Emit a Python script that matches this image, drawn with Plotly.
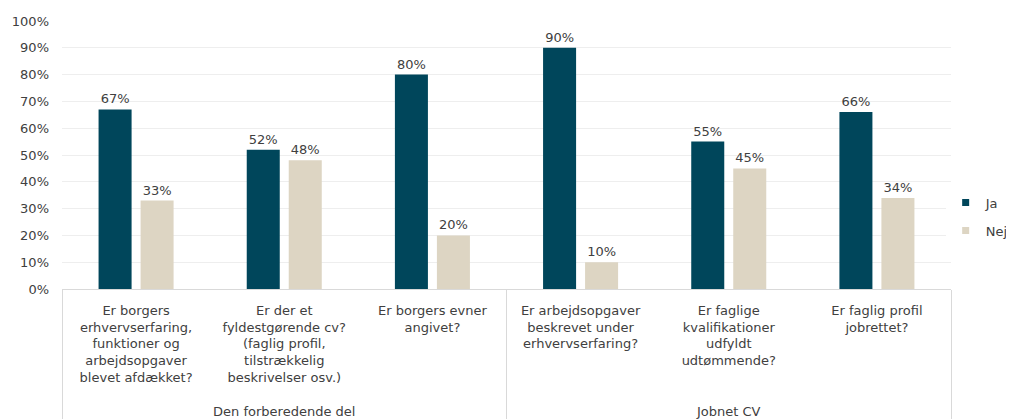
import plotly.graph_objects as go

groups = ["Den forberedende del"] * 3 + ["Jobnet CV"] * 3
categories = [
    "Er borgers<br>erhvervserfaring,<br>funktioner og<br>arbejdsopgaver<br>blevet afdækket?<br><span style='font-size:50px'>\u00a0</span>",
    "Er der et<br>fyldestgørende cv?<br>(faglig profil,<br>tilstrækkelig<br>beskrivelser osv.)<br><span style='font-size:50px'>\u00a0</span>",
    "Er borgers evner<br>angivet?",
    "Er arbejdsopgaver<br>beskrevet under<br>erhvervserfaring?",
    "Er faglige<br>kvalifikationer<br>udfyldt<br>udtømmende?",
    "Er faglig profil<br>jobrettet?",
]
ja = [0.67, 0.52, 0.80, 0.90, 0.55, 0.66]
nej = [0.33, 0.48, 0.20, 0.10, 0.45, 0.34]
yticks = [0, 0.1, 0.2, 0.3, 0.4, 0.5, 0.6, 0.7, 0.8, 0.9, 1.0]

FONT = "DejaVu Sans"
TXT = "#404040"
C_JA = "#00465B"
C_NEJ = "#DDD5C3"

fig = go.Figure()
for name, vals, col in [("Ja", ja, C_JA), ("Nej", nej, C_NEJ)]:
    fig.add_trace(go.Bar(
        x=[groups, categories], y=vals, name=name, marker_color=col,
        marker_line_width=0,
        text=[f"{round(v*100)}%" for v in vals], textposition="outside",
        textfont=dict(family=FONT, size=13, color=TXT), cliponaxis=False,
        showlegend=False,
    ))
    fig.add_trace(go.Scatter(
        x=[None], y=[None], mode="markers", name=name, legendgroup=name,
        marker=dict(symbol="square", size=7, color=col),
    ))

# page body adds an 8px offset; figure sized to fit the window
fig.update_layout(
    width=1006, height=411,
    margin=dict(l=54, r=63, t=13, b=130, autoexpand=False),
    paper_bgcolor="white", plot_bgcolor="white",
    barmode="group", bargap=0.433, bargroupgap=0.214,
    font=dict(family=FONT, size=13, color=TXT),
    legend=dict(x=0.994, y=0.27, xanchor="left", yanchor="middle",
                font=dict(family=FONT, size=13, color=TXT), tracegroupgap=8,
                itemwidth=30),
    yaxis=dict(range=[0, 1], tickvals=yticks, tickformat=".0%",
               showgrid=True, gridcolor="#EEEEEE", gridwidth=1,
               zeroline=False, showline=False, ticks="",
               ticklabelstandoff=12,
               tickfont=dict(family=FONT, size=13, color=TXT)),
    xaxis=dict(type="multicategory", showline=True, linecolor="#D9D9D9",
               linewidth=1, showdividers=True, dividercolor="#D9D9D9",
               dividerwidth=1, ticks="", ticklabelstandoff=9,
               tickfont=dict(family=FONT, size=13, color=TXT)),
)
fig.write_html("out.html")
